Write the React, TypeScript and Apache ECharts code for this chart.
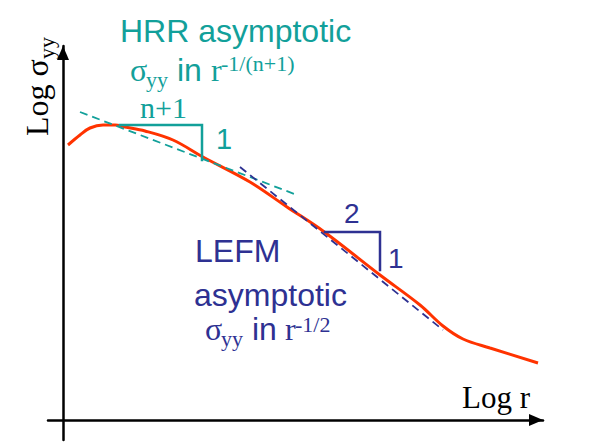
import React, { useEffect, useRef } from "react";
import * as echarts from "echarts";

// Schematic data (arbitrary log units; origin at axes crossing)
const curveLogR = [5, 17, 27, 40, 52, 62, 82, 110, 140, 187, 224, 260, 317, 357, 380, 400, 427, 475];
const curveLogSigma = [275, 285, 292, 295, 295, 293, 289, 280, 263, 238, 213, 189, 145, 115, 94, 81, 72, 57];

const hrrAsymptoteR = [17, 234];
const hrrAsymptoteSigma = [308, 225];
const lefmAsymptoteR = [177, 380];
const lefmAsymptoteSigma = [253, 90];

const hrrTriangleR = [57, 139, 139];
const hrrTriangleSigma = [295, 295, 260];
const lefmTriangleR = [262, 317, 317];
const lefmTriangleSigma = [188, 188, 150];

const TEAL = "#12a09a";
const NAVY = "#2e3192";
const RED = "#ff3300";
const SERIF = "Liberation Serif";
const SANS = "Liberation Sans";

const zip = (a: number[], b: number[]) => a.map((v, i) => [v, b[i]]);

const txt = (
  x: number,
  baseline: number,
  text: string,
  size: number,
  family: string,
  color: string
) => ({
  type: "text",
  x,
  y: baseline - size * 0.31,
  silent: true,
  style: {
    text,
    fill: color,
    font: `${size}px "${family}"`,
    align: "left",
    verticalAlign: "middle",
  },
});

export default function App() {
  const ref = useRef<HTMLDivElement>(null);
  useEffect(() => {
    if (!ref.current) return;
    const chart = echarts.init(ref.current, undefined, { renderer: "svg" });
    const axisCommon = {
      type: "value",
      axisTick: { show: false },
      axisLabel: { show: false },
      splitLine: { show: false },
    };
    chart.setOption({
      animation: false,
      backgroundColor: "#ffffff",
      grid: { left: 48, right: 55, top: 46, bottom: 4 },
      xAxis: {
        ...axisCommon,
        min: -15,
        max: 480,
        axisLine: {
          show: true,
          onZero: true,
          symbol: ["none", "triangle"],
          symbolSize: [12, 14],
          symbolOffset: [0, -7],
          lineStyle: { color: "#000", width: 2.5 },
        },
      },
      yAxis: {
        ...axisCommon,
        min: -20,
        max: 374,
        axisLine: {
          show: true,
          onZero: true,
          symbol: ["none", "triangle"],
          symbolSize: [12, 14],
          symbolOffset: [0, -7],
          lineStyle: { color: "#000", width: 2.5 },
        },
      },
      series: [
        {
          type: "line",
          data: zip(curveLogR, curveLogSigma),
          smooth: 0.35,
          showSymbol: false,
          symbol: "none",
          clip: false,
          lineStyle: { color: RED, width: 3 },
          z: 2,
        },
        {
          type: "line",
          data: zip(hrrAsymptoteR, hrrAsymptoteSigma),
          symbol: "none",
          clip: false,
          lineStyle: { color: TEAL, width: 1.8, type: [8, 5] },
          z: 3,
        },
        {
          type: "line",
          data: zip(lefmAsymptoteR, lefmAsymptoteSigma),
          symbol: "none",
          clip: false,
          lineStyle: { color: NAVY, width: 1.8, type: [8, 5] },
          z: 3,
        },
        {
          type: "line",
          data: zip(hrrTriangleR, hrrTriangleSigma),
          symbol: "none",
          clip: false,
          lineStyle: { color: TEAL, width: 2.5, cap: "square", join: "miter" },
          z: 4,
        },
        {
          type: "line",
          data: zip(lefmTriangleR, lefmTriangleSigma),
          symbol: "none",
          clip: false,
          lineStyle: { color: NAVY, width: 2.5, cap: "square", join: "miter" },
          z: 4,
        },
      ],
      graphic: [
        txt(120, 41, "HRR asymptotic", 32, SANS, TEAL),
        txt(130, 80, "σ", 32, SERIF, TEAL),
        txt(146, 86, "yy", 22, SERIF, TEAL),
        txt(177, 80, "in", 32, SANS, TEAL),
        txt(211, 80, "r", 32, SERIF, TEAL),
        txt(221, 70, "-1/(n+1)", 22, SERIF, TEAL),
        txt(140, 117, "n+1", 30, SERIF, TEAL),
        txt(216, 148, "1", 29, SANS, TEAL),
        txt(344, 222, "2", 28, SANS, NAVY),
        txt(388, 267, "1", 28, SANS, NAVY),
        txt(195, 261, "LEFM", 32, SANS, NAVY),
        txt(194, 305, "asymptotic", 32, SANS, NAVY),
        txt(205, 339, "σ", 32, SERIF, NAVY),
        txt(221, 345, "yy", 22, SERIF, NAVY),
        txt(252, 339, "in", 32, SANS, NAVY),
        txt(285, 339, "r", 32, SERIF, NAVY),
        txt(295, 331, "-1/2", 22, SERIF, NAVY),
        txt(462, 407, "Log r", 31, SERIF, "#000"),
        {
          type: "group",
          x: 47,
          y: 136,
          rotation: Math.PI / 2,
          silent: true,
          children: [
            txt(0, 0, "Log σ", 32, SERIF, "#000"),
            txt(77, 6, "yy", 22, SERIF, "#000"),
          ],
        },
      ],
    });
    return () => chart.dispose();
  }, []);
  return (
    <div
      ref={ref}
      style={{ position: "absolute", left: 0, top: 0, width: 598, height: 444 }}
    />
  );
}
